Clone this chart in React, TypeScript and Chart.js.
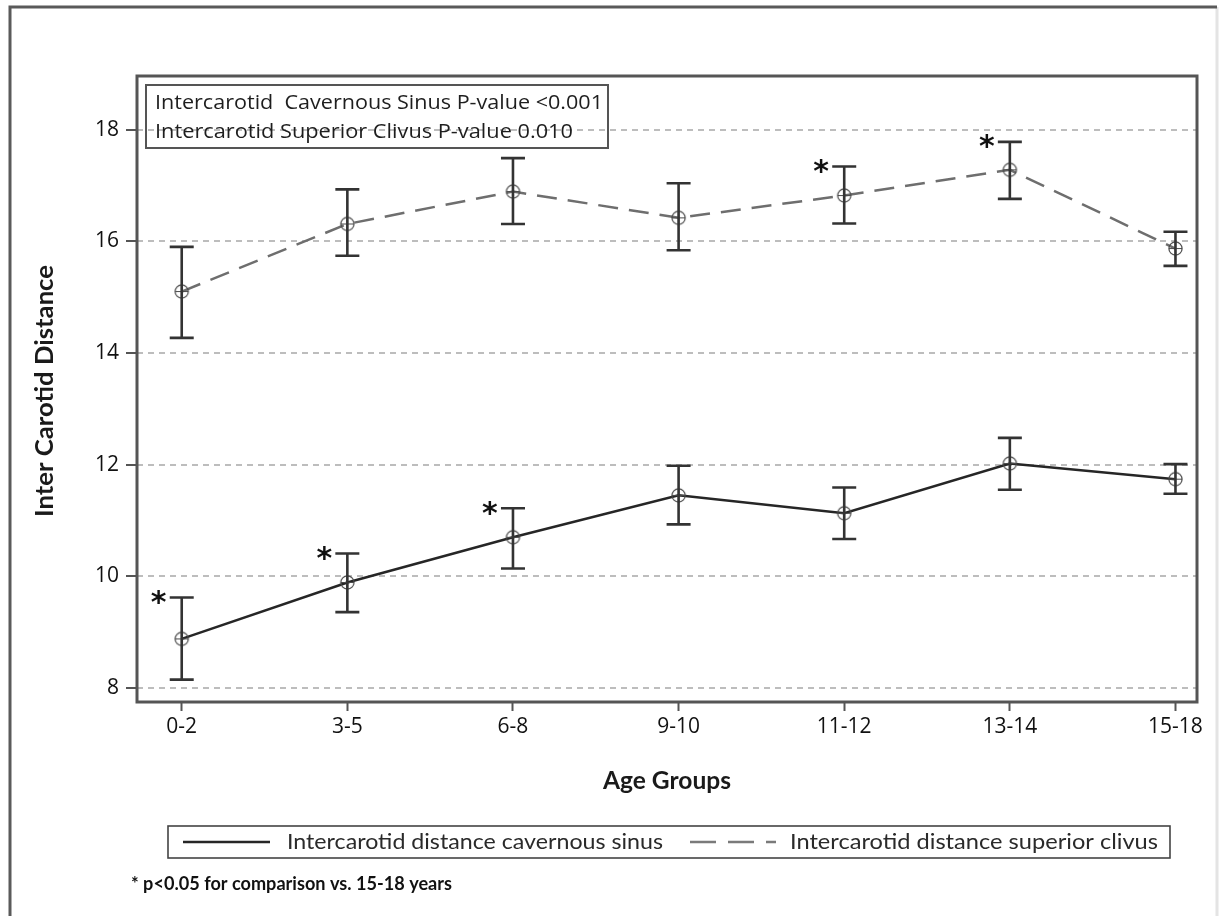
import React, { useEffect, useRef } from "react";
import { Chart, registerables } from "chart.js";

Chart.register(...registerables);

// Age groups along the x axis
const ageGroups = ["0-2", "3-5", "6-8", "9-10", "11-12", "13-14", "15-18"];

// Intercarotid distance at the cavernous sinus (mean with error bar limits)
const cavernousMean = [8.88, 9.89, 10.7, 11.45, 11.13, 12.02, 11.74];
const cavernousUpper = [9.62, 10.41, 11.22, 11.98, 11.59, 12.48, 12.01];
const cavernousLower = [8.15, 9.36, 10.14, 10.93, 10.67, 11.55, 11.48];
const cavernousSignificant = [true, true, true, false, false, false, false];

// Intercarotid distance at the superior clivus (mean with error bar limits)
const clivusMean = [15.1, 16.31, 16.89, 16.42, 16.82, 17.28, 15.87];
const clivusUpper = [15.9, 16.93, 17.49, 17.04, 17.34, 17.78, 16.17];
const clivusLower = [14.27, 15.74, 16.31, 15.84, 16.32, 16.76, 15.56];
const clivusSignificant = [false, false, false, false, true, true, false];

const yTickValues = [8, 10, 12, 14, 16, 18];

const pValueLines = [
  "Intercarotid  Cavernous Sinus P-value <0.001",
  "Intercarotid Superior Clivus P-value 0.010",
];
const seriesLabels = [
  "Intercarotid distance cavernous sinus",
  "Intercarotid distance superior clivus",
];
const xTitle = "Age Groups";
const yTitle = "Inter Carotid Distance";
const footnote = "* p<0.05 for comparison vs. 15-18 years";

const W = 1219;
const H = 916;

function makeMarker(): HTMLCanvasElement {
  const c = document.createElement("canvas");
  c.width = 17;
  c.height = 17;
  const g = c.getContext("2d")!;
  g.strokeStyle = "#4a4a4a";
  g.lineWidth = 1.2;
  g.beginPath();
  g.arc(8.5, 8.5, 6.6, 0, Math.PI * 2);
  g.stroke();
  g.beginPath();
  g.moveTo(2, 8.5);
  g.lineTo(15, 8.5);
  g.moveTo(8.5, 2);
  g.lineTo(8.5, 15);
  g.stroke();
  return c;
}

// Draws text squeezed/stretched horizontally to a given width
function fillTextFit(
  ctx: CanvasRenderingContext2D,
  text: string,
  x: number,
  y: number,
  width: number,
  align: CanvasTextAlign
) {
  const w = ctx.measureText(text).width;
  const s = w > 0 ? width / w : 1;
  ctx.save();
  ctx.translate(x, y);
  ctx.scale(s, 1);
  ctx.textAlign = align;
  ctx.fillText(text, 0, 0);
  ctx.restore();
}

const decorations = {
  id: "decorations",
  afterDraw(chart: any) {
    const ctx: CanvasRenderingContext2D = chart.ctx;
    const xs = chart.scales.x;
    const ys = chart.scales.y;
    const area = chart.chartArea;

    ctx.save();

    // outer figure frame
    ctx.lineWidth = 3;
    ctx.strokeStyle = "#e4e4e4";
    ctx.beginPath();
    ctx.moveTo(1217, 7);
    ctx.lineTo(1217, H);
    ctx.stroke();
    ctx.strokeStyle = "#5a5a5a";
    ctx.beginPath();
    ctx.moveTo(10, H);
    ctx.lineTo(10, 7);
    ctx.lineTo(1217, 7);
    ctx.stroke();

    // plot frame
    ctx.strokeStyle = "#555555";
    ctx.lineWidth = 3;
    ctx.strokeRect(area.left, area.top, area.right - area.left, area.bottom - area.top);

    // error bars
    const drawBars = (upper: number[], lower: number[]) => {
      ctx.strokeStyle = "#333333";
      ctx.lineWidth = 2.6;
      upper.forEach((u, i) => {
        const x = xs.getPixelForValue(i);
        const yu = ys.getPixelForValue(u);
        const yl = ys.getPixelForValue(lower[i]);
        ctx.beginPath();
        ctx.moveTo(x, yu);
        ctx.lineTo(x, yl);
        ctx.moveTo(x - 12, yu);
        ctx.lineTo(x + 12, yu);
        ctx.moveTo(x - 12, yl);
        ctx.lineTo(x + 12, yl);
        ctx.stroke();
      });
    };
    drawBars(cavernousUpper, cavernousLower);
    drawBars(clivusUpper, clivusLower);

    // significance stars
    ctx.fillStyle = "#111111";
    ctx.font = "bold 30px 'DejaVu Sans'";
    ctx.textAlign = "center";
    ctx.textBaseline = "alphabetic";
    const star = ctx.measureText("*");
    const starShift =
      (star.actualBoundingBoxAscent - star.actualBoundingBoxDescent) / 2;
    const drawStars = (upper: number[], flags: boolean[]) => {
      flags.forEach((f, i) => {
        if (!f) return;
        const x = xs.getPixelForValue(i) - 23;
        const y = ys.getPixelForValue(upper[i]);
        ctx.fillText("*", x, y + starShift);
      });
    };
    drawStars(cavernousUpper, cavernousSignificant);
    drawStars(clivusUpper, clivusSignificant);

    // p-value box
    ctx.strokeStyle = "#555555";
    ctx.lineWidth = 2;
    ctx.strokeRect(146, 85, 462, 63);
    ctx.fillStyle = "#1e1e1e";
    ctx.font = "20px 'Open Sans'";
    ctx.textBaseline = "middle";
    fillTextFit(ctx, pValueLines[0], 155, 103, 448, "left");
    fillTextFit(ctx, pValueLines[1], 155, 132, 418, "left");

    // axis titles
    ctx.font = "bold 24px Lato";
    ctx.fillStyle = "#1a1a1a";
    fillTextFit(ctx, xTitle, (area.left + area.right) / 2, 781, 128, "center");
    ctx.save();
    ctx.translate(45, 391);
    ctx.rotate(-Math.PI / 2);
    fillTextFit(ctx, yTitle, 0, 0, 252, "center");
    ctx.restore();

    // legend
    ctx.strokeStyle = "#444444";
    ctx.lineWidth = 1.6;
    ctx.strokeRect(168, 826, 1002, 32);
    ctx.lineWidth = 2.5;
    ctx.strokeStyle = "#262626";
    ctx.beginPath();
    ctx.moveTo(183, 842);
    ctx.lineTo(270, 842);
    ctx.stroke();
    ctx.strokeStyle = "#7a7a7a";
    ctx.setLineDash([26, 12]);
    ctx.beginPath();
    ctx.moveTo(690, 842);
    ctx.lineTo(776, 842);
    ctx.stroke();
    ctx.setLineDash([]);
    ctx.fillStyle = "#2a2a2a";
    ctx.font = "22px Lato";
    fillTextFit(ctx, seriesLabels[0], 287, 842, 376, "left");
    fillTextFit(ctx, seriesLabels[1], 790, 842, 368, "left");

    // footnote
    ctx.fillStyle = "#111111";
    ctx.font = "bold 19px Lato";
    fillTextFit(ctx, footnote, 131, 884, 321, "left");

    ctx.restore();
  },
};

export default function App() {
  const canvasRef = useRef<HTMLCanvasElement | null>(null);

  useEffect(() => {
    const canvas = canvasRef.current;
    if (!canvas) return;
    const marker = makeMarker();
    const toPoints = (vals: number[]) => vals.map((v, i) => ({ x: i, y: v }));

    const chart = new Chart(canvas, {
      type: "line",
      data: {
        datasets: [
          {
            label: seriesLabels[0],
            data: toPoints(cavernousMean),
            borderColor: "#262626",
            borderWidth: 2.5,
            pointStyle: marker,
            pointRadius: 7,
            fill: false,
            tension: 0,
          },
          {
            label: seriesLabels[1],
            data: toPoints(clivusMean),
            borderColor: "#6e6e6e",
            borderWidth: 2.5,
            borderDash: [20, 11],
            pointStyle: marker,
            pointRadius: 7,
            fill: false,
            tension: 0,
          },
        ],
      },
      options: {
        responsive: false,
        animation: false,
        devicePixelRatio: 1,
        layout: { padding: { left: 0, top: 76, right: 22, bottom: 0 } },
        plugins: {
          legend: { display: false },
          tooltip: { enabled: false },
        },
        scales: {
          x: {
            type: "linear",
            min: -0.27,
            max: 6.13,
            afterBuildTicks: (scale: any) => {
              scale.ticks = ageGroups.map((_, i) => ({ value: i }));
            },
            afterFit: (scale: any) => {
              scale.height = 214;
            },
            ticks: {
              callback: (v: any) => ageGroups[Math.round(Number(v))] ?? "",
              font: { family: "'Open Sans'", size: 21, weight: "500" },
              color: "#111111",
              padding: 3,
              maxRotation: 0,
              autoSkip: false,
            },
            grid: {
              drawOnChartArea: false,
              drawTicks: true,
              tickLength: 9,
              tickColor: "#555555",
              tickWidth: 2,
            },
            border: { display: false },
          },
          y: {
            min: 7.75,
            max: 18.96,
            afterBuildTicks: (scale: any) => {
              scale.ticks = yTickValues.map((v) => ({ value: v }));
            },
            afterFit: (scale: any) => {
              scale.width = 137;
            },
            ticks: {
              font: { family: "'Open Sans'", size: 21, weight: "500" },
              color: "#111111",
              padding: 7,
            },
            grid: {
              color: "#bdbdbd",
              lineWidth: 2,
              drawTicks: true,
              tickLength: 11,
              tickColor: "#555555",
              tickWidth: 2,
            },
            border: { display: false, dash: [6, 5] },
          },
        },
      },
      plugins: [decorations],
    } as any);

    return () => chart.destroy();
  }, []);

  return (
    <div style={{ position: "fixed", left: 0, top: 0, width: W, height: H, background: "#ffffff" }}>
      <canvas ref={canvasRef} width={W} height={H} style={{ display: "block" }} />
    </div>
  );
}
